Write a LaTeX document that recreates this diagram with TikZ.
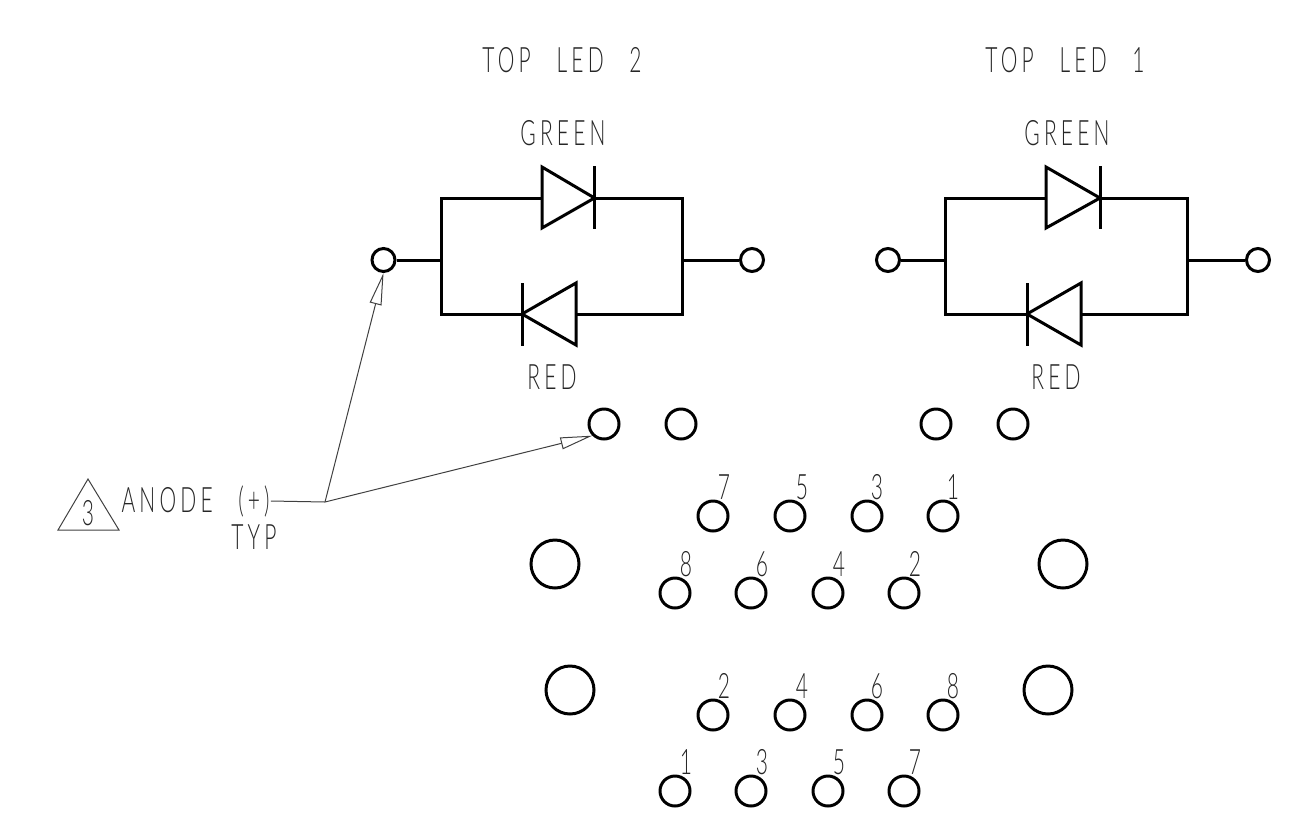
\documentclass[tikz,border=0pt]{standalone}
\usepackage{fontspec}
\usepackage{tikz}
\usetikzlibrary{arrows.meta}
\newfontfamily\cadfont[UprightFont={* Light},FakeStretch=0.6,LetterSpace=12,WordSpace=2.6]{Lato}

\begin{document}
\begin{tikzpicture}[x = 1pt, y = -1pt, line width = 3pt,
                        term/.style = {circle, draw, inner sep = 0, minimum size = 23pt},
                        pin/.style = {circle, draw, inner sep = 0, minimum size = 30pt},
                        bighole/.style = {circle, draw, inner sep = 0, minimum size = 48pt},
                        txt/.style = {inner sep = 0, text = black!85, font = \cadfont\fontsize{35}{35}\selectfont},
                        leader/.style = {line width = 1pt, draw = black!75},
                        tip/.style = {-{Triangle[open, length = 32pt, width = 12pt, line width = 1pt]}}]
      \useasboundingbox (0, 0) rectangle (1304, 831);
      % titles
      \node [txt] (title2) at (562, 60){TOP LED 2};
      \node [txt] (title1) at (1065, 60){TOP LED 1};
      \node [txt] (green2) at (563, 133){GREEN};
      \node [txt] (green1) at (1067, 133){GREEN};
      \node [txt] (red2) at (552, 377){RED};
      \node [txt] (red1) at (1056, 377){RED};
      % left circuit
      \node [term] (a1) at (383.5, 260){};
      \node [term] (a2) at (752, 260){};
      \coordinate (b1) at (441, 260);
      \coordinate (b2) at (682, 260);
      \coordinate (b3) at (441, 198);
      \coordinate (b4) at (682, 198);
      \coordinate (b5) at (441, 314);
      \coordinate (b6) at (682, 314);
      \coordinate (c1) at (542, 198);
      \coordinate (c2) at (594.5, 198);
      \coordinate (c3) at (522, 314);
      \coordinate (c4) at (576, 314);
      \draw (a1) -- (b1);
      \draw (a2) -- (b2);
      \draw (c1) -- (b3) -- (b5) -- (c3);
      \draw (c2) -- (b4) -- (b6) -- (c4);
      \draw (542, 167) -- (c2) -- (542, 228) -- cycle;
      \draw (594.5, 166) -- (594.5, 229);
      \draw (576, 283) -- (c3) -- (576, 345) -- cycle;
      \draw (522, 283) -- (522, 346);
      % right circuit
      \node [term] (d1) at (888, 260){};
      \node [term] (d2) at (1258, 260){};
      \coordinate (e1) at (945, 260);
      \coordinate (e2) at (1187, 260);
      \coordinate (e3) at (945, 198);
      \coordinate (e4) at (1187, 198);
      \coordinate (e5) at (945, 314);
      \coordinate (e6) at (1187, 314);
      \coordinate (f1) at (1046, 198);
      \coordinate (f2) at (1100, 198);
      \coordinate (f3) at (1027, 314);
      \coordinate (f4) at (1081, 314);
      \draw (d1) -- (e1);
      \draw (d2) -- (e2);
      \draw (f1) -- (e3) -- (e5) -- (f3);
      \draw (f2) -- (e4) -- (e6) -- (f4);
      \draw (1046, 167) -- (f2) -- (1046, 228) -- cycle;
      \draw (1100, 166) -- (1100, 229);
      \draw (1081, 283) -- (f3) -- (1081, 345) -- cycle;
      \draw (1027, 283) -- (1027, 346);
      % top pins
      \node [pin] (g1) at (604, 424){};
      \node [pin] (g2) at (681, 424){};
      \node [pin] (g3) at (936, 424){};
      \node [pin] (g4) at (1013, 424){};
      % big holes
      \node [bighole] (h1) at (555, 564){};
      \node [bighole] (h2) at (1063, 564){};
      \node [bighole] (h3) at (570, 690){};
      \node [bighole] (h4) at (1048, 690){};
      % upper connector
      \node [pin] (u7) at (713, 516){};
      \node [pin] (u5) at (790, 516){};
      \node [pin] (u3) at (867, 516){};
      \node [pin] (u1) at (943, 516){};
      \node [pin] (u8) at (675, 593){};
      \node [pin] (u6) at (751, 593){};
      \node [pin] (u4) at (828, 593){};
      \node [pin] (u2) at (904, 593){};
      \node [txt] (nu7) at (724, 487){7};
      \node [txt] (nu5) at (802, 487){5};
      \node [txt] (nu3) at (877, 487){3};
      \node [txt] (nu1) at (953, 487){1};
      \node [txt] (nu8) at (686, 564){8};
      \node [txt] (nu6) at (762, 564){6};
      \node [txt] (nu4) at (839, 564){4};
      \node [txt] (nu2) at (915, 564){2};
      % lower connector
      \node [pin] (l2) at (713, 715){};
      \node [pin] (l4) at (790, 715){};
      \node [pin] (l6) at (867, 715){};
      \node [pin] (l8) at (943, 715){};
      \node [pin] (l1) at (675, 791){};
      \node [pin] (l3) at (751, 791){};
      \node [pin] (l5) at (828, 791){};
      \node [pin] (l7) at (904, 791){};
      \node [txt] (nl2) at (724, 686){2};
      \node [txt] (nl4) at (802, 686){4};
      \node [txt] (nl6) at (877, 686){6};
      \node [txt] (nl8) at (953, 686){8};
      \node [txt] (nl1) at (686, 762){1};
      \node [txt] (nl3) at (762, 762){3};
      \node [txt] (nl5) at (839, 762){5};
      \node [txt] (nl7) at (915, 762){7};
      % note
      \draw [leader] (88, 479) -- (58, 530) -- (119, 530) -- cycle;
      \node [txt] (n3) at (88, 513){3};
      \node [txt, anchor = west] (anode) at (120, 501){ANODE (\kern4pt+\kern4pt)};
      \node [txt] (typ) at (254, 537){TYP};
      \coordinate (j1) at (325, 502);
      \draw [leader] (anode.east) -- (j1);
      \draw [leader, tip] (j1) -- (a1.south);
      \draw [leader, tip] (j1) -- (g1.south west);
    \end{tikzpicture}
\end{document}
